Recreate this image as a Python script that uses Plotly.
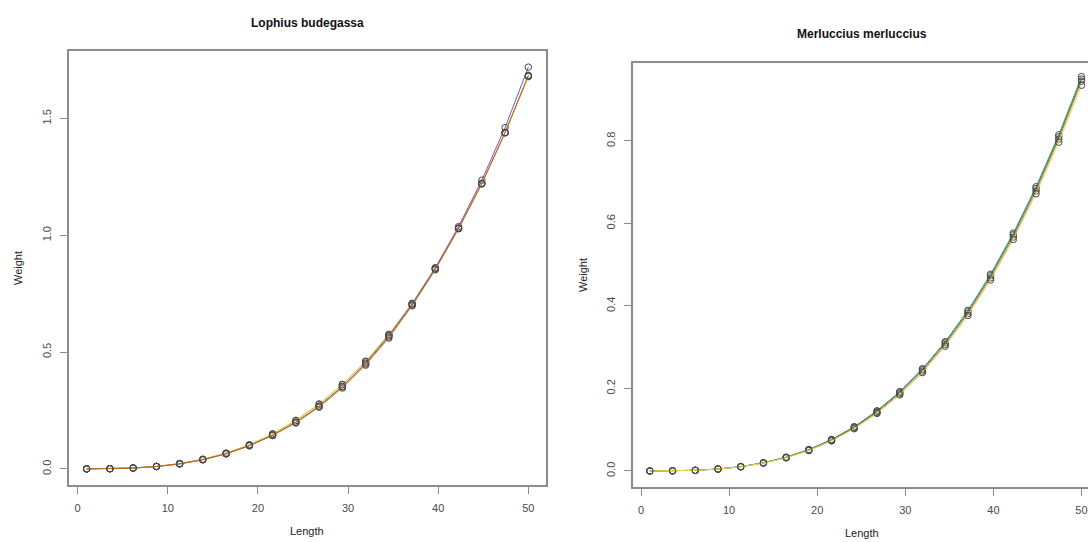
import plotly.graph_objects as go

# ---------------- data ----------------
length = [1.0, 3.58, 6.16, 8.74, 11.32, 13.89, 16.47, 19.05, 21.63, 24.21,
          26.79, 29.37, 31.95, 34.53, 37.11, 39.68, 42.26, 44.84, 47.42, 50.0]

# Lophius budegassa (left panel)
lb_green  = [0.00003, 0.0008, 0.0040, 0.0108, 0.0228, 0.0413, 0.0676, 0.1032, 0.1500, 0.2080,
             0.2780, 0.3620, 0.4610, 0.5760, 0.7090, 0.8600, 1.0310, 1.2230, 1.4390, 1.6800]
lb_yellow = [0.00003, 0.0008, 0.0039, 0.0106, 0.0224, 0.0407, 0.0668, 0.1022, 0.1485, 0.2060,
             0.2760, 0.3600, 0.4590, 0.5740, 0.7070, 0.8580, 1.0300, 1.2220, 1.4390, 1.6820]
lb_blue   = [0.00002, 0.0007, 0.0035, 0.0099, 0.0212, 0.0388, 0.0642, 0.0988, 0.1435, 0.1990,
             0.2690, 0.3530, 0.4530, 0.5700, 0.7060, 0.8610, 1.0370, 1.2360, 1.4610, 1.7200]
lb_orange = [0.00002, 0.0007, 0.0036, 0.0101, 0.0215, 0.0393, 0.0648, 0.0993, 0.1430, 0.1965,
             0.2640, 0.3460, 0.4440, 0.5600, 0.6980, 0.8520, 1.0280, 1.2200, 1.4400, 1.6800]
lb_red    = [0.00002, 0.0007, 0.0036, 0.0102, 0.0217, 0.0396, 0.0652, 0.0998, 0.1445, 0.2000,
             0.2680, 0.3510, 0.4490, 0.5650, 0.7010, 0.8550, 1.0290, 1.2210, 1.4400, 1.6850]

# Merluccius merluccius (right panel)
mm_green  = [0.00001, 0.0003, 0.0017, 0.0049, 0.0107, 0.0200, 0.0335, 0.0520, 0.0765, 0.1075,
             0.1460, 0.1925, 0.2480, 0.3135, 0.3895, 0.4770, 0.5765, 0.6890, 0.8150, 0.9560]
mm_teal   = [0.00001, 0.0003, 0.0017, 0.0048, 0.0105, 0.0197, 0.0330, 0.0513, 0.0755, 0.1062,
             0.1445, 0.1905, 0.2455, 0.3105, 0.3860, 0.4735, 0.5725, 0.6845, 0.8100, 0.9500]
mm_orange = [0.00001, 0.0003, 0.0016, 0.0047, 0.0103, 0.0193, 0.0323, 0.0503, 0.0740, 0.1042,
             0.1418, 0.1875, 0.2421, 0.3066, 0.3816, 0.4682, 0.5669, 0.6787, 0.8045, 0.9450]
mm_yellow = [0.00001, 0.0003, 0.0016, 0.0046, 0.0101, 0.0190, 0.0318, 0.0495, 0.0728, 0.1025,
             0.1395, 0.1845, 0.2385, 0.3025, 0.3770, 0.4630, 0.5610, 0.6720, 0.7970, 0.9350]

left_series = [("#9acd32", lb_green), ("#e6d84a", lb_yellow), ("#6a5acd", lb_blue),
               ("#e0a060", lb_orange), ("#b5651d", lb_red)]
right_series = [("#3cb371", mm_green), ("#2f6f6f", mm_teal), ("#c08040", mm_orange),
                ("#e6d84a", mm_yellow)]

x_ticks = [0, 10, 20, 30, 40, 50]
left_y_ticks = [0.0, 0.5, 1.0, 1.5]
right_y_ticks = [0.0, 0.2, 0.4, 0.6, 0.8]

fig = go.Figure()

mk = dict(symbol="circle-open", size=6.5, color="#4a4a4a", line=dict(width=1, color="#4a4a4a"))
for col, ys in left_series:
    fig.add_trace(go.Scatter(x=length, y=ys, mode="lines+markers", xaxis="x", yaxis="y",
                             line=dict(color=col, width=1), marker=mk,
                             showlegend=False, hoverinfo="x+y"))
for col, ys in right_series:
    fig.add_trace(go.Scatter(x=length, y=ys, mode="lines+markers", xaxis="x2", yaxis="y2",
                             line=dict(color=col, width=1), marker=mk,
                             showlegend=False, hoverinfo="x+y"))

W, H = 1088, 542
axis_common = dict(showgrid=False, zeroline=False, showline=True, linecolor="#8c8c8c",
                   linewidth=1.5, ticks="outside", ticklen=7, tickcolor="#8c8c8c",
                   tickwidth=1, tickfont=dict(family="Liberation Sans, Arial", size=11,
                                              color="#4a4a4a"),
                   ticklabelstandoff=5)

fig.update_layout(
    width=W, height=H, margin=dict(l=0, r=0, t=0, b=0),
    paper_bgcolor="white", plot_bgcolor="white",
    xaxis=dict(domain=[69 / W, 546 / W], range=[-0.96, 51.96], tickvals=x_ticks,
               mirror=True, anchor="y", **axis_common),
    yaxis=dict(domain=[1 - 485 / H, 1 - 51 / H], range=[-0.069, 1.789],
               tickvals=left_y_ticks, tickformat=".1f", tickangle=-90,
               mirror=True, anchor="x", **axis_common),
    xaxis2=dict(domain=[633 / W, 1.0], range=[-0.91, 50.74], tickvals=x_ticks,
                mirror=True, anchor="y2", **axis_common),
    yaxis2=dict(domain=[1 - 487 / H, 1 - 63 / H], range=[-0.0388, 0.989],
                tickvals=right_y_ticks, tickformat=".1f", tickangle=-90,
                mirror=False, anchor="x2", **axis_common),
)

txt = dict(family="Liberation Sans, Arial", size=11, color="#222222")
ann = [
    dict(text="<b>Lophius budegassa</b>", x=307 / W, y=1 - 23 / H,
         font=dict(family="Liberation Sans, Arial", size=12, color="#111111")),
    dict(text="<b>Merluccius merluccius</b>", x=862 / W, y=1 - 34 / H,
         font=dict(family="Liberation Sans, Arial", size=12, color="#111111")),
    dict(text="Length", x=307 / W, y=1 - 531 / H, font=txt),
    dict(text="Length", x=862 / W, y=1 - 533 / H, font=txt),
    dict(text="Weight", x=18 / W, y=1 - 268 / H, textangle=-90, font=txt),
    dict(text="Weight", x=583 / W, y=1 - 275 / H, textangle=-90, font=txt),
]
for a in ann:
    a.update(xref="paper", yref="paper", showarrow=False, xanchor="center", yanchor="middle")
    fig.add_annotation(**a)

fig.write_html("out.html")
